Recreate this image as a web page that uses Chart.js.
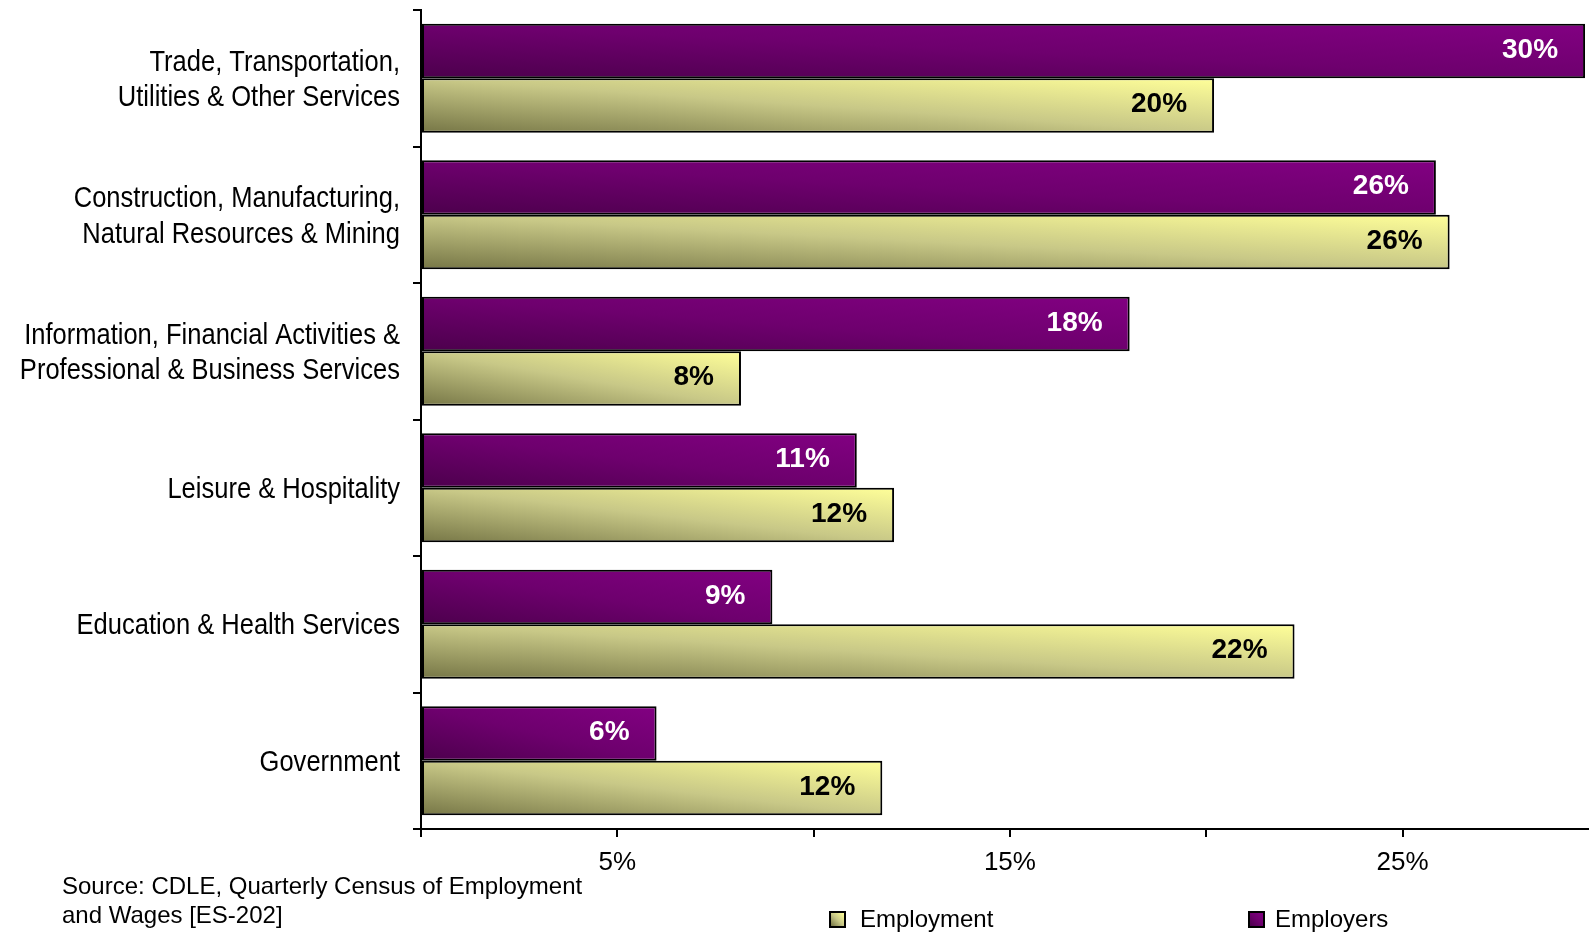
<!DOCTYPE html>
<html>
<head>
<meta charset="utf-8">
<title>Employers and Employment by Industry</title>
<script src="https://cdn.jsdelivr.net/npm/chart.js@4.4.1/dist/chart.umd.min.js"></script>
<style>
  body { margin: 0; background: #fff; }
  #wrap { position: relative; width: 1589px; height: 934px; }
  #source {
    position: absolute; left: 62px; top: 871px;
    font: 24px 'Liberation Sans', Arial, sans-serif; line-height: 29px; color: #000;
  }
  .legend-item {
    position: absolute; top: 905px;
    font: 24px 'Liberation Sans', Arial, sans-serif; line-height: 28px; color: #000;
  }
  .swatch {
    position: absolute; left: 0; top: 6px; width: 13px; height: 13px;
    border: 2px solid #000;
  }
  .legend-item span.txt { margin-left: 31px; }
</style>
</head>
<body>
<div id="wrap">
  <canvas id="chart"></canvas>
  <div id="source">Source: CDLE, Quarterly Census of Employment<br>and Wages [ES-202]</div>
  <div class="legend-item" style="left:829px"><div class="swatch" style="background:linear-gradient(45deg,#767646,#c8c887,#ffff99)"></div><span class="txt">Employment</span></div>
  <div class="legend-item" style="left:1248px"><div class="swatch" style="background:linear-gradient(45deg,#4c004c,#6e006e,#820082)"></div><span class="txt" style="margin-left:27px">Employers</span></div>
</div>
<script>
const industries = [
  ['Trade, Transportation,', 'Utilities & Other Services'],
  ['Construction, Manufacturing,', 'Natural Resources & Mining'],
  ['Information, Financial Activities &', 'Professional & Business Services'],
  'Leisure & Hospitality',
  'Education & Health Services',
  'Government'
];
const employers = [29.65, 25.85, 18.05, 11.1, 8.95, 6.0];
const employment = [20.2, 26.2, 8.15, 12.05, 22.25, 11.75];
const xTicks = [0, 5, 10, 15, 20, 25];
const xLabelled = [5, 15, 25];

const purpleStops = ['#4c004c', '#6e006e', '#820082'];
const yellowStops = ['#767646', '#c8c887', '#ffff99'];

// gradient dark at bottom-left, light at top-right, scaled to each bar's box
function barFill(stops, fallback) {
  return (c) => {
    const chart = c.chart;
    if (c.type !== 'data' || !chart.chartArea) return fallback;
    const xs = chart.scales.x, ys = chart.scales.y;
    const x0 = xs.getPixelForValue(0);
    const x1 = xs.getPixelForValue(c.raw);
    const band = Math.abs(ys.getPixelForValue(1) - ys.getPixelForValue(0));
    const thick = band * 0.8 / 2;
    const top = ys.getPixelForValue(c.dataIndex) - band * 0.4 + c.datasetIndex * thick;
    const bot = top + thick;
    const W = Math.max(x1 - x0, 1), H = thick;
    const gx = 1 / (2 * W), gy = -1 / (2 * H);
    const n = gx * gx + gy * gy;
    const g = chart.ctx.createLinearGradient(x0, bot, x0 + gx / n, bot + gy / n);
    g.addColorStop(0, stops[0]);
    g.addColorStop(0.5, stops[1]);
    g.addColorStop(1, stops[2]);
    return g;
  };
}

const valueLabels = {
  id: 'valueLabels',
  afterDatasetsDraw(chart) {
    const ctx = chart.ctx;
    ctx.save();
    ctx.font = "bold 28px 'Liberation Sans', Arial, sans-serif";
    ctx.textAlign = 'right';
    ctx.textBaseline = 'middle';
    chart.data.datasets.forEach((ds, di) => {
      ctx.fillStyle = di === 0 ? '#fff' : '#000';
      chart.getDatasetMeta(di).data.forEach((bar, i) => {
        ctx.fillText(Math.round(ds.data[i]) + '%', bar.x - 27, bar.y - 1);
      });
    });
    ctx.restore();
  }
};

// category labels in a narrow face: Liberation Sans squeezed horizontally
const narrowLabels = {
  id: 'narrowLabels',
  afterDraw(chart) {
    const ys = chart.scales.y;
    const ctx = chart.ctx;
    const right = ys.right - 8 - 13;
    const lineH = 35.5;
    ctx.save();
    ctx.font = "29px 'Liberation Sans', Arial, sans-serif";
    ctx.fillStyle = '#000';
    ctx.textAlign = 'right';
    ctx.textBaseline = 'middle';
    ys.getLabels().forEach((lab, i) => {
      const lines = Array.isArray(lab) ? lab : [lab];
      const cy = ys.getPixelForTick(i) + 2;
      lines.forEach((t, k) => {
        const y = cy + (k - (lines.length - 1) / 2) * lineH;
        ctx.save();
        ctx.translate(right, y);
        ctx.scale(0.88, 1);
        ctx.fillText(t, 0, 0);
        ctx.restore();
      });
    });
    ctx.restore();
  }
};

new Chart(document.getElementById('chart'), {
  type: 'bar',
  data: {
    labels: industries,
    datasets: [
      {
        label: 'Employers',
        data: employers,
        backgroundColor: barFill(purpleStops, '#700070'),
        borderColor: '#000',
        borderWidth: 2,
        borderSkipped: false,
        categoryPercentage: 0.8,
        barPercentage: 1.0
      },
      {
        label: 'Employment',
        data: employment,
        backgroundColor: barFill(yellowStops, '#cccc88'),
        borderColor: '#000',
        borderWidth: 2,
        borderSkipped: false,
        categoryPercentage: 0.8,
        barPercentage: 1.0
      }
    ]
  },
  options: {
    indexAxis: 'y',
    responsive: true,
    maintainAspectRatio: false,
    animation: false,
    layout: { padding: { top: 10, right: 0, bottom: 0, left: 0 } },
    plugins: {
      legend: { display: false },
      tooltip: { enabled: false }
    },
    scales: {
      x: {
        min: 0,
        max: 29.75,
        afterBuildTicks: (scale) => { scale.ticks = xTicks.map(v => ({ value: v })); },
        afterFit: (scale) => { scale.height = 105; },
        border: { color: '#000', width: 2 },
        grid: { drawOnChartArea: false, drawTicks: true, tickLength: 8, color: '#000', lineWidth: 2 },
        ticks: {
          padding: 10,
          color: '#000',
          font: { family: "'Liberation Sans', Arial, sans-serif", size: 26 },
          callback: (v) => xLabelled.includes(v) ? v + '%' : ''
        }
      },
      y: {
        afterFit: (scale) => { scale.width = 421; },
        border: { color: '#000', width: 2 },
        grid: { drawOnChartArea: false, drawTicks: true, tickLength: 8, color: '#000', lineWidth: 2, offset: true },
        ticks: { display: false }
      }
    }
  },
  plugins: [valueLabels, narrowLabels]
});
</script>
</body>
</html>
